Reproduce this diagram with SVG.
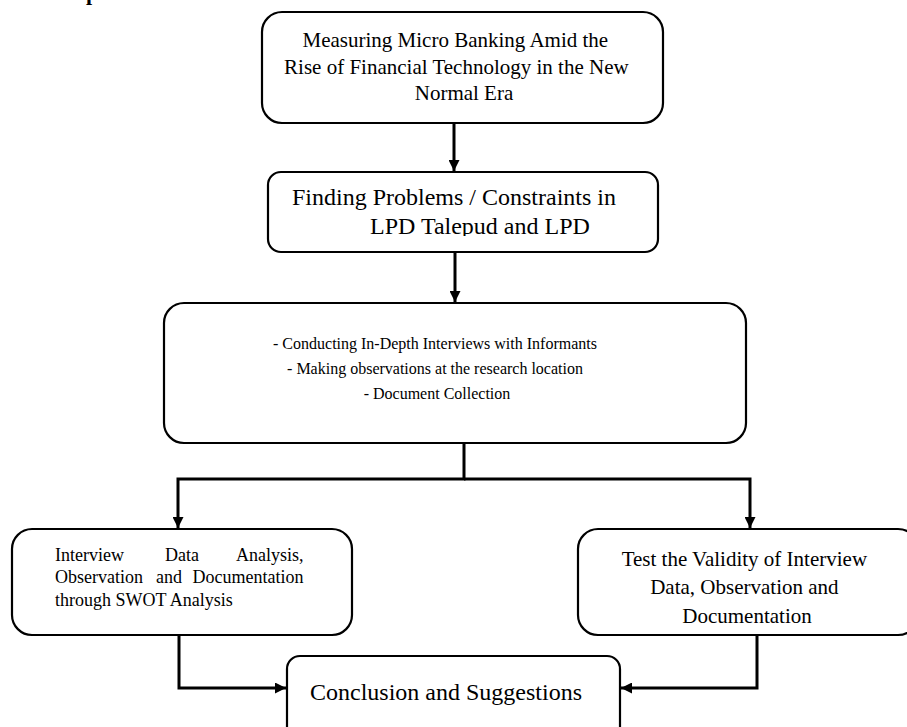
<svg xmlns="http://www.w3.org/2000/svg" width="907" height="727" viewBox="0 0 907 727">
<style>
.box{fill:#fff;stroke:#000;stroke-width:2.2}
.t{font-family:"Liberation Serif","Times New Roman",serif;fill:#000}
.c{fill:none;stroke:#000;stroke-width:3}
</style>
<defs>
<marker id="ah" markerUnits="userSpaceOnUse" markerWidth="11" markerHeight="11" refX="11" refY="5.5" orient="auto">
<path d="M0,0 L11,5.5 L0,11 z" fill="#000"/>
</marker>
<clipPath id="clip2"><rect x="268" y="172" width="390" height="64"/></clipPath>
</defs>
<rect width="907" height="727" fill="#fff"/>
<text class="t" x="86" y="0" font-size="22" font-weight="bold">p</text>
<g id="connectors">
<path class="c" d="M454,123 V171" marker-end="url(#ah)"/>
<path class="c" d="M455,252 V302" marker-end="url(#ah)"/>
<path class="c" d="M464,443 V479 H178 V528" marker-end="url(#ah)"/>
<path class="c" d="M464,479 H750 V528" marker-end="url(#ah)"/>
<path class="c" d="M179,635 V688 H286" marker-end="url(#ah)"/>
<path class="c" d="M757,635 V688 H621" marker-end="url(#ah)"/>
</g>
<g id="node1">
<rect class="box" x="262" y="12" width="401" height="111" rx="20"/>
<text class="t" font-size="21" text-anchor="middle">
<tspan x="458" y="47">Measuring Micro Banking Amid the</tspan>
<tspan x="459" y="73.5">Rise of Financial Technology in the New</tspan>
<tspan x="464" y="100">Normal Era</tspan>
</text>
</g>
<g id="node2">
<rect class="box" x="268" y="172" width="390" height="80" rx="13"/>
<text class="t" font-size="24" clip-path="url(#clip2)">
<tspan x="292" y="205">Finding Problems / Constraints in</tspan>
<tspan x="370" y="234">LPD Talepud and LPD</tspan>
</text>
</g>
<g id="node3">
<rect class="box" x="164" y="303" width="582" height="140" rx="20"/>
<text class="t" font-size="16" text-anchor="middle">
<tspan x="437" y="349">- Conducting In-Depth Interviews with Informants</tspan>
<tspan x="437" y="374">- Making observations at the research location</tspan>
<tspan x="437" y="399">- Document Collection</tspan>
</text>
</g>
<g id="node4">
<rect class="box" x="12" y="529" width="340" height="106" rx="20"/>
<text class="t" font-size="18">
<tspan x="55" y="561">Interview</tspan><tspan x="165" y="561">Data</tspan><tspan x="308" y="561" text-anchor="end">Analysis,</tspan>
<tspan x="55" y="583">Observation</tspan><tspan x="156" y="583">and</tspan><tspan x="308" y="583" text-anchor="end">Documentation</tspan>
<tspan x="55" y="606">through SWOT Analysis</tspan>
</text>
</g>
<g id="node5">
<rect class="box" x="578" y="529" width="340" height="106" rx="20"/>
<text class="t" font-size="21" text-anchor="middle">
<tspan x="747" y="566">Test the Validity of Interview</tspan>
<tspan x="747" y="594">Data, Observation and</tspan>
<tspan x="747" y="623">Documentation</tspan>
</text>
</g>
<g id="node6">
<rect class="box" x="287" y="656" width="333" height="90" rx="13"/>
<text class="t" font-size="24" x="310" y="700">Conclusion and Suggestions</text>
</g>
</svg>
